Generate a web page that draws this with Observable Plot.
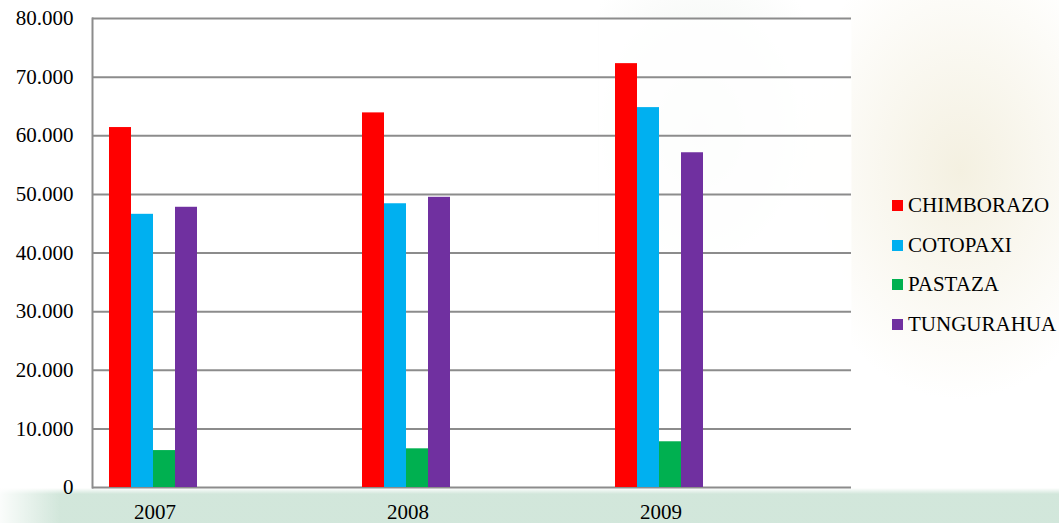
<!DOCTYPE html>
<html>
<head>
<meta charset="utf-8">
<script src="https://cdn.jsdelivr.net/npm/d3@7"></script>
<script src="https://cdn.jsdelivr.net/npm/@observablehq/plot@0.6"></script>
<style>
  html, body { margin: 0; padding: 0; }
  #wrap {
    position: relative; width: 1059px; height: 523px; overflow: hidden;
    background:
      radial-gradient(ellipse 170px 230px at 960px 170px, rgba(235,228,200,0.55), rgba(255,255,255,0) 100%),
      radial-gradient(ellipse 140px 180px at 700px 130px, rgba(215,225,215,0.45), rgba(255,255,255,0) 100%),
      linear-gradient(to right, rgba(255,255,255,0.9) 0px, rgba(255,255,255,0) 60px),
      linear-gradient(to bottom, rgba(255,255,255,0) 0px, rgba(255,255,255,0) 488px, rgba(205,228,215,0.9) 494px, rgba(205,228,215,0.9) 523px),
      #ffffff;
  }
  #chart { position: absolute; left: 0; top: 0; }
  #chart svg text { font-family: "Liberation Serif", "Tinos", "DejaVu Serif", serif !important; }
  #legend {
    position: absolute; left: 892px; top: 186px;
    font-family: "Liberation Serif", "Tinos", "DejaVu Serif", serif; font-size: 21px; color: #000;
  }
  #legend .item { display: flex; align-items: center; height: 39.5px; white-space: nowrap; }
  #legend .sw { width: 11px; height: 11px; margin-right: 5px; flex: none; }
</style>
</head>
<body>
<div id="wrap">
  <div id="chart"></div>
  <div id="legend"></div>
</div>
<script>
const years = ["2007", "2008", "2009"];
const series = ["CHIMBORAZO", "COTOPAXI", "PASTAZA", "TUNGURAHUA"];
const chimborazo = [61400, 63900, 72300];
const cotopaxi = [46600, 48400, 64800];
const pastaza = [6300, 6600, 7800];
const tungurahua = [47800, 49500, 57100];
const colors = ["#FF0000", "#00B0F0", "#00B050", "#7030A0"];
const yTicks = [0, 10000, 20000, 30000, 40000, 50000, 60000, 70000, 80000];

const valuesBySeries = [chimborazo, cotopaxi, pastaza, tungurahua];
const table = [];
years.forEach((year, i) => {
  series.forEach((s, j) => table.push({year, series: s, value: valuesBySeries[j][i]}));
});

const fmt = d => d === 0 ? "0" : d3.format(",")(d).replace(/,/g, ".");
const gray = "#8c8c8c";
const serif = "Liberation Serif, DejaVu Serif, serif";

const plot = Plot.plot({
  width: 1059,
  height: 523,
  marginLeft: 91,
  marginRight: 207,
  marginTop: 18,
  marginBottom: 36,
  style: {background: "transparent", fontFamily: serif, fontSize: "21px", color: "#000"},
  fx: {domain: years, padding: 0, label: null},
  x: {domain: series, paddingInner: 0, paddingOuter: 3.515, align: 0.105, axis: null},
  y: {domain: [0, 80000], axis: null},
  color: {domain: series, range: colors},
  marks: [
    Plot.frame({fill: "white", fillOpacity: 0.85, stroke: null}),
    Plot.ruleY(yTicks, {stroke: gray, strokeWidth: 2}),
    Plot.barY(table, {fx: "year", x: "series", y: "value", fill: "series"}),
    Plot.frame({anchor: "left", stroke: gray, strokeWidth: 2, facetAnchor: "left"}),
    Plot.axisY({ticks: yTicks, tickSize: 0, tickPadding: 19, tickFormat: fmt, fontSize: 21, fontFamily: serif, fill: "#000", label: null}),
    Plot.axisFx({anchor: "bottom", tickSize: 0, tickPadding: 17, dx: -64, fontSize: 21, fontFamily: serif, fill: "#000", label: null})
  ]
});
document.getElementById("chart").appendChild(plot);

const legend = document.getElementById("legend");
series.forEach((s, i) => {
  const item = document.createElement("div");
  item.className = "item";
  const sw = document.createElement("span");
  sw.className = "sw";
  sw.style.background = colors[i];
  const label = document.createElement("span");
  label.textContent = s;
  item.appendChild(sw);
  item.appendChild(label);
  legend.appendChild(item);
});
</script>
</body>
</html>
